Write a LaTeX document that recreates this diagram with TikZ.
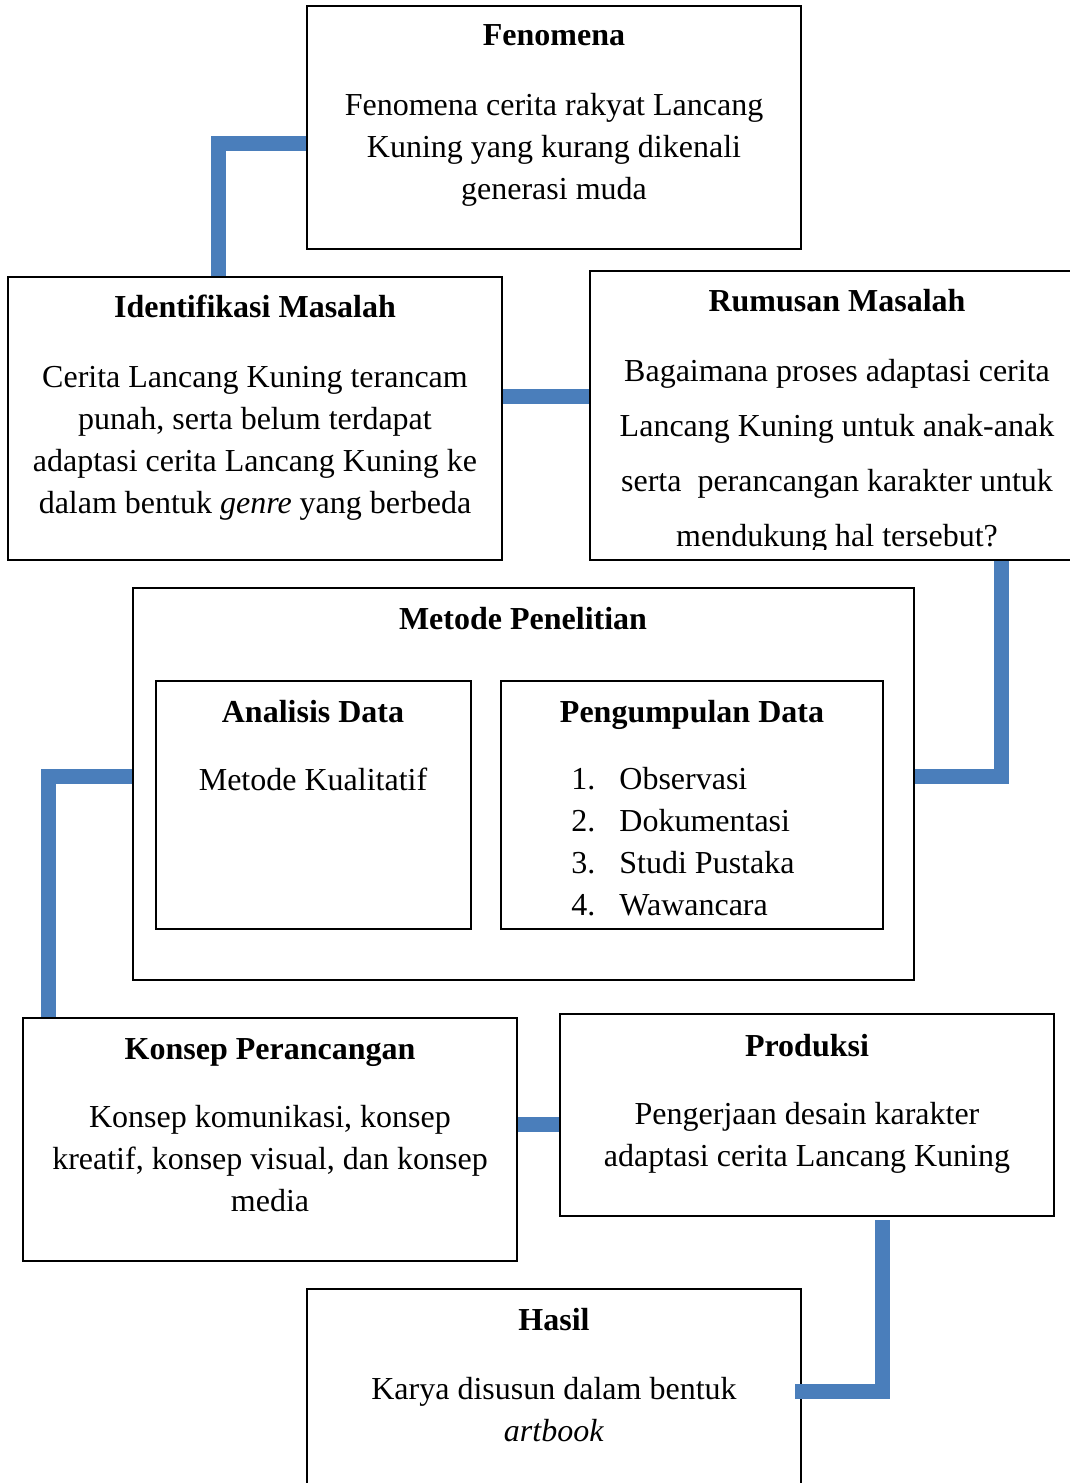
\documentclass[tikz,border=0pt]{standalone}
\usepackage{fontspec}
\setmainfont{Liberation Serif}
\usetikzlibrary{fit}
\definecolor{connblue}{RGB}{74,126,187}
\begin{document}
\begin{tikzpicture}[x=0.5pt,y=-0.5pt,
  box/.style={draw=black, line width=1pt, inner sep=0pt},
  txt/.style={font={\fontsize{16}{21}\selectfont}, align=center, inner sep=0pt, anchor=base},
  ttl/.style={font={\fontsize{16}{21}\selectfont\bfseries}, align=center, inner sep=0pt, anchor=base},
  conn/.style={draw=connblue, line width=7.5pt, line join=miter, line cap=butt}]
\useasboundingbox (0,0) rectangle (1070,1483);

% boxes
\node[box, fit={(307,6) (801,249)}] (fen) {};
\node[box, fit={(8,277) (502,560)}] (ide) {};
\node[box, fit={(590,271) (1084,560)}] (rum) {};
\node[box, fit={(133,588) (914,980)}] (met) {};
\node[box, fit={(156,681) (471,929)}] (ana) {};
\node[box, fit={(501,681) (883,929)}] (pen) {};
\node[box, fit={(23,1018) (517,1261)}] (kon) {};
\node[box, fit={(560,1014) (1054,1216)}] (pro) {};
\node[box, fit={(307,1289) (801,1495)}] (has) {};

% texts (multi-line nodes: base anchor = baseline of last line)
\node[ttl] (fenT) at (554,46) {Fenomena};
\node[txt] (fenB) at (554,199) {Fenomena cerita rakyat Lancang\\Kuning yang kurang dikenali\\generasi muda};

\node[ttl] (ideT) at (255,317) {Identifikasi Masalah};
\node[txt] (ideB) at (255,513) {Cerita Lancang Kuning terancam\\punah, serta belum terdapat\\adaptasi cerita Lancang Kuning ke\\dalam bentuk \textit{genre} yang berbeda};

\node[ttl] (rumT) at (837,311) {Rumusan Masalah};
\begin{scope}
\clip (590,271) rectangle (1070,549);
\node[txt, font={\fontsize{16}{27.5}\selectfont}] (rumB) at (837,546) {Bagaimana proses adaptasi cerita\\Lancang Kuning untuk anak-anak\\serta\ \ perancangan karakter untuk\\mendukung hal tersebut?};
\end{scope}

\node[ttl] (metT) at (523,629) {Metode Penelitian};
\node[ttl] (anaT) at (313,722) {Analisis Data};
\node[txt] (anaB) at (313,790) {Metode Kualitatif};
\node[ttl] (penT) at (692,722) {Pengumpulan Data};
\node[txt, anchor=base west, align=left] (penB) at (571,789) {\begin{tabular}[t]{@{}r@{\hspace{12pt}}l@{}}1. & Observasi\\2. & Dokumentasi\\3. & Studi Pustaka\\4. & Wawancara\end{tabular}};

\node[ttl] (konT) at (270,1059) {Konsep Perancangan};
\node[txt] (konB) at (270,1211) {Konsep komunikasi, konsep\\kreatif, konsep visual, dan konsep\\media};

\node[ttl] (proT) at (807,1056) {Produksi};
\node[txt] (proB) at (807,1166) {Pengerjaan desain karakter\\adaptasi cerita Lancang Kuning};

\node[ttl] (hasT) at (554,1330) {Hasil};
\node[txt] (hasB) at (554,1441) {Karya disusun dalam bentuk\\\textit{artbook}};

% connectors
\coordinate (c1) at (218,143);
\draw[conn] (fen.west |- c1) -- (c1) -- (c1 |- ide.north);
\coordinate (c2) at (546,396);
\draw[conn] (ide.east |- c2) -- (rum.west |- c2);
\coordinate (c3) at (1001,776);
\draw[conn] (c3 |- rum.south) -- (c3) -- (met.east |- c3);
\coordinate (c4) at (48,776);
\draw[conn] (met.west |- c4) -- (c4) -- (c4 |- kon.north);
\coordinate (c5) at (538,1124);
\draw[conn] (kon.east |- c5) -- (pro.west |- c5);
\coordinate (c6) at (882,1391);
\coordinate (c6e) at (795,1391);
\draw[conn] ([yshift=-1.5pt]c6 |- pro.south) -- (c6) -- (c6e);
\end{tikzpicture}
\end{document}
